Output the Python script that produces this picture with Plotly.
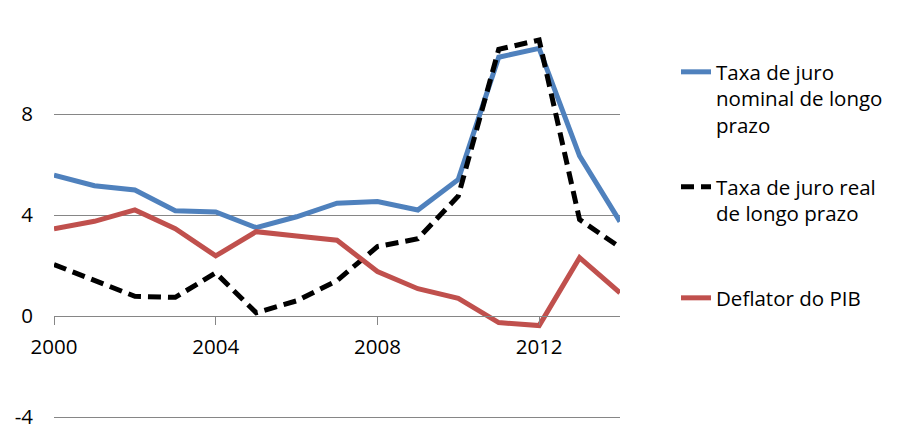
import plotly.graph_objects as go

years = list(range(2000, 2015))
nominal = [5.58, 5.16, 4.99, 4.17, 4.12, 3.5, 3.93, 4.47, 4.53, 4.2, 5.41, 10.25, 10.6, 6.34, 3.74]
real = [2.04, 1.4, 0.78, 0.74, 1.71, 0.13, 0.6, 1.4, 2.75, 3.06, 4.75, 10.56, 10.93, 3.82, 2.72]
deflator = [3.45, 3.75, 4.2, 3.46, 2.38, 3.34, 3.17, 3.0, 1.76, 1.08, 0.7, -0.26, -0.38, 2.31, 0.92]

names = ["Taxa de juro<br>nominal de longo<br>prazo",
         "Taxa de juro real<br>de longo prazo",
         "Deflator do PIB"]
y_tickvals = [-4, 0, 4, 8]
y_ticktext = ["-4", "0", "4", "8"]
x_tickvals = [2000, 2004, 2008, 2012]
x_ticktext = ["2000", "2004", "2008", "2012"]

# page has an 8px body margin; figure sized to fill the rest of the window
W, H = 894, 436
FONT = "Open Sans"
FS = 20.5

fig = go.Figure()
fig.add_trace(go.Scatter(x=years, y=nominal, mode="lines", name=names[0],
                         line=dict(color="#4F81BD", width=5), legend="legend"))
fig.add_trace(go.Scatter(x=years, y=real, mode="lines", name=names[1],
                         line=dict(color="#000000", width=5, dash="13px,7px"), legend="legend2"))
fig.add_trace(go.Scatter(x=years, y=deflator, mode="lines", name=names[2],
                         line=dict(color="#C0504D", width=5), legend="legend3"))

ymin, ymax = -5.069, 12.198
zero_pos = (0 - ymin) / (ymax - ymin)

leg_common = dict(xref="container", yref="container", xanchor="left", yanchor="top",
                  valign="top", font=dict(family=FONT, size=FS, color="#000"),
                  bgcolor="rgba(0,0,0,0)", itemwidth=30, visible=True)

fig.update_layout(
    width=W, height=H,
    showlegend=True,
    margin=dict(l=46, r=W - 612, t=0, b=0),
    paper_bgcolor="white", plot_bgcolor="white",
    font=dict(family=FONT, size=FS, color="#000"),
    xaxis=dict(range=[2000, 2014], tickvals=x_tickvals, ticktext=x_ticktext,
               showgrid=False, zeroline=False, showline=True, linecolor="#868686", linewidth=1,
               ticks="outside", ticklen=8, tickcolor="#868686", tickwidth=1,
               anchor="free", position=zero_pos, ticklabelstandoff=4,
               tickfont=dict(family=FONT, size=FS, color="#000")),
    yaxis=dict(range=[ymin, ymax], tickvals=y_tickvals, ticktext=y_ticktext,
               showgrid=True, gridcolor="#868686", gridwidth=1, zeroline=False,
               showline=False, ticks="", ticklabelstandoff=20,
               tickfont=dict(family=FONT, size=FS, color="#000")),
    legend=dict(x=668 / W, y=1 - 44 / H, **leg_common),
    legend2=dict(x=668 / W, y=1 - 159 / H, **leg_common),
    legend3=dict(x=668 / W, y=1 - 270 / H, **leg_common),
)

fig.write_html("out.html")
